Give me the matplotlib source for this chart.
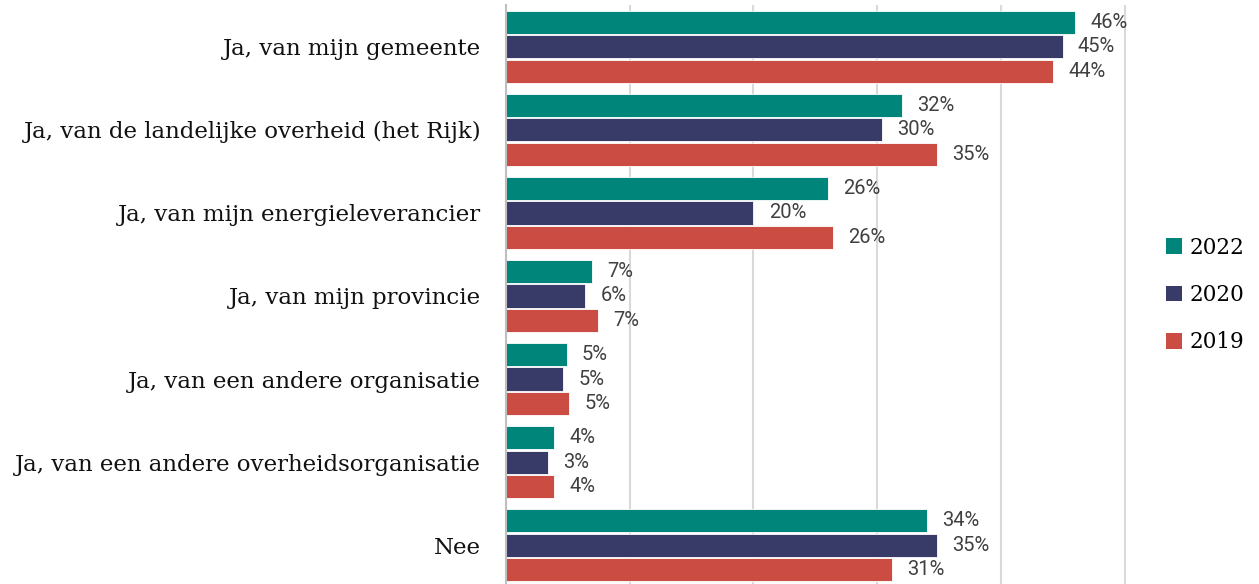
import matplotlib
matplotlib.use("Agg")
import matplotlib.pyplot as plt
import numpy as np
from matplotlib.patches import Patch

categories = [
    "Ja, van mijn gemeente",
    "Ja, van de landelijke overheid (het Rijk)",
    "Ja, van mijn energieleverancier",
    "Ja, van mijn provincie",
    "Ja, van een andere organisatie",
    "Ja, van een andere overheidsorganisatie",
    "Nee",
]
series_names = ["2022", "2020", "2019"]
values_2022 = [46.0, 32.0, 26.0, 6.95, 4.9, 3.9, 34.0]
values_2020 = [45.0, 30.4, 20.0, 6.4, 4.6, 3.4, 34.8]
values_2019 = [44.2, 34.8, 26.4, 7.4, 5.1, 3.9, 31.2]
colors = ["#00857A", "#383A68", "#CB4C43"]

fig = plt.figure(figsize=(12.59, 5.84), dpi=100)
ax = fig.add_axes([506 / 1259, 0.0, 623.5 / 1259, 579 / 584])

y = np.arange(len(categories))
pitch = 0.296
height = 0.28
all_vals = [values_2022, values_2020, values_2019]
for i, (vals, c) in enumerate(zip(all_vals, colors)):
    pos = y + (i - 1) * pitch
    bars = ax.barh(pos, vals, height=height, color=c, edgecolor="white",
                   linewidth=0.6, zorder=3)
    for b, v in zip(bars, vals):
        ax.annotate(f"{v:.0f}%", (v, b.get_y() + b.get_height() / 2),
                    xytext=(11, 0), textcoords="offset points",
                    va="center", ha="left", fontsize=14.5,
                    family=["Roboto", "DejaVu Sans"], color="#404040")

ax.set_xlim(0, 50.4)
ax.set_ylim(6.467, -0.503)
ax.set_xticks([0, 10, 20, 30, 40, 50])
ax.set_xticklabels([])
ax.tick_params(axis="x", length=0)
ax.grid(axis="x", color="#d9d9d9", linewidth=1.5, zorder=0)
ax.set_yticks(y)
ax.set_yticklabels(categories, family=["DejaVu Serif"], fontsize=16.5, color="#111111")
ax.tick_params(axis="y", length=0, pad=18)
for s in ["top", "right", "bottom"]:
    ax.spines[s].set_visible(False)
ax.spines["left"].set_color("#bfbfbf")
ax.spines["left"].set_linewidth(1.5)
ax.spines["left"].set_zorder(4)

handles = [Patch(facecolor=c, edgecolor="none") for c in colors]
leg = fig.legend(handles, series_names, loc="center left",
                 bbox_to_anchor=(1166 / 1259, 1 - 295 / 584), frameon=False,
                 prop={"family": "DejaVu Serif", "size": 15.5},
                 handlelength=0.75, handleheight=0.75, handletextpad=0.35,
                 labelspacing=1.18, borderaxespad=0, borderpad=0)

fig.savefig("out.png", dpi=100)
